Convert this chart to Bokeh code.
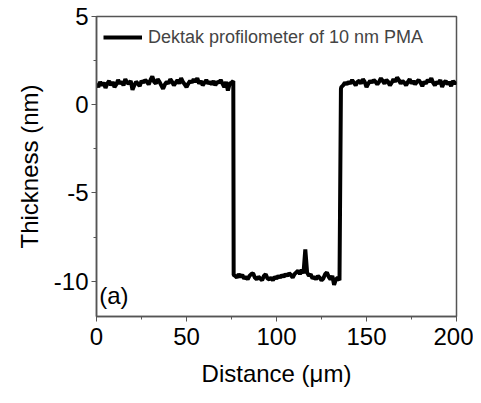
from bokeh.plotting import figure
from bokeh.models import FixedTicker, Legend, LegendItem, Range1d, Label
from bokeh.embed import file_html
from bokeh.resources import INLINE

# Profile (Distance in um, Thickness in nm)
left_x = list(range(0, 77))
left_y = [1.2, 1.0, 1.3, 1.1, 1.25, 0.95, 1.2, 1.35, 1.1, 1.3,
          1.0, 1.15, 1.4, 1.2, 1.3, 1.1, 1.45, 1.25, 1.2, 1.35,
          0.85, 1.1, 1.3, 1.2, 1.05, 1.35, 1.25, 1.4, 1.3, 1.15,
          1.4, 1.6, 1.3, 1.2, 1.45, 1.3, 1.1, 0.9, 1.15, 1.3,
          1.2, 1.45, 1.3, 1.1, 1.25, 1.4, 1.2, 1.5, 1.3, 1.15,
          1.0, 1.2, 1.35, 1.25, 1.45, 1.3, 1.5, 1.2, 1.35, 1.1,
          1.25, 1.4, 1.2, 1.3, 1.15, 1.35, 1.1, 1.3, 1.25, 1.4,
          1.2, 1.0, 1.3, 0.8, 1.2, 1.25, 1.35]
bottom_x = [76.2] + list(range(77, 136))
bottom_y = [-9.65,
            -9.7, -9.8, -9.6, -9.75, -9.65, -9.85, -9.75, -9.9, -9.7, -9.6,
            -9.55, -9.8, -9.9, -9.75, -9.85, -9.95, -9.7, -9.6, -9.85, -9.9,
            -9.8, -9.95, -9.75, -9.85, -9.7, -9.8, -9.65, -9.75, -9.6, -9.7,
            -9.55, -9.65, -9.8, -9.6, -9.5, -9.4, -9.6, -9.35, -9.55, -8.2,
            -9.5, -9.7, -9.6, -9.85, -9.75, -9.9, -9.7, -9.8, -9.95, -9.85,
            -9.6, -9.5, -9.75, -9.9, -9.7, -10.2, -9.9, -9.8, -9.95]
right_x = [135.8] + list(range(136, 201))
right_y = [0.9,
           1.0, 1.1, 1.25, 1.15, 1.3, 1.2, 1.4, 1.25, 1.1, 1.3,
           1.35, 1.2, 1.45, 1.3, 1.0, 1.2, 1.35, 1.25, 1.4, 1.3,
           1.15, 1.3, 1.5, 1.35, 1.2, 1.4, 1.3, 1.1, 1.25, 1.45,
           1.3, 1.55, 1.4, 1.2, 1.35, 1.25, 1.1, 1.3, 1.45, 1.2,
           1.35, 1.15, 1.3, 1.4, 1.25, 1.05, 1.3, 1.2, 1.4, 1.3,
           1.5, 1.25, 1.1, 1.3, 1.2, 1.4, 1.0, 1.25, 1.35, 1.15,
           1.3, 1.05, 1.35, 1.2, 1.3]

distance = left_x + bottom_x + right_x
thickness = left_y + bottom_y + right_y

x_ticks = [0, 50, 100, 150, 200]
x_minor = [25, 75, 125, 175]
y_ticks = [-10, -5, 0, 5]
y_minor = [-7.5, -2.5, 2.5]
y_labels = {-10: "-10", -5: "-5", 0: "0", 5: "5"}

FONT = "Liberation Sans"
AXC = "#555555"

p = figure(width=473, height=395, output_backend="svg", toolbar_location=None,
           x_range=Range1d(0, 200), y_range=Range1d(-12, 5),
           min_border_left=96, min_border_right=17, min_border_top=16, min_border_bottom=79)
p.grid.visible = False
p.outline_line_color = AXC
p.outline_line_width = 1.5

r = p.line(distance, thickness, line_color="black", line_width=4)

for ax in (p.xaxis[0], p.yaxis[0]):
    ax.axis_line_color = AXC
    ax.axis_line_width = 1.5
    ax.major_tick_line_color = AXC
    ax.minor_tick_line_color = AXC
    ax.major_tick_in = 0
    ax.major_tick_out = 5
    ax.minor_tick_in = 0
    ax.minor_tick_out = 3
    ax.major_label_text_font = FONT
    ax.major_label_text_font_size = "24px"
    ax.major_label_text_color = "black"
    ax.axis_label_text_font = FONT
    ax.axis_label_text_font_size = "24px"
    ax.axis_label_text_font_style = "normal"
    ax.axis_label_text_color = "black"

p.xaxis[0].ticker = FixedTicker(ticks=x_ticks, minor_ticks=x_minor)
p.yaxis[0].ticker = FixedTicker(ticks=y_ticks, minor_ticks=y_minor)
p.yaxis[0].major_label_overrides = y_labels
p.xaxis[0].axis_label = "Distance (\u03bcm)"
p.yaxis[0].axis_label = "Thickness (nm)"
p.xaxis[0].major_label_standoff = 6
p.xaxis[0].axis_label_standoff = 12
p.yaxis[0].major_label_standoff = 3
p.yaxis[0].axis_label_standoff = 8

legend = Legend(items=[LegendItem(label="Dektak profilometer of 10 nm PMA", renderers=[r])],
                location="top_left", border_line_alpha=0, background_fill_alpha=0,
                label_text_font=FONT, label_text_font_size="18px",
                glyph_width=39, glyph_height=20, label_height=28,
                margin=5, padding=2, label_standoff=6)
p.add_layout(legend)

p.add_layout(Label(x=1.5, y=-11.6, text="(a)", text_font=FONT, text_font_size="24px",
                   text_color="black"))

open("out.html", "w").write(file_html(p, INLINE))
